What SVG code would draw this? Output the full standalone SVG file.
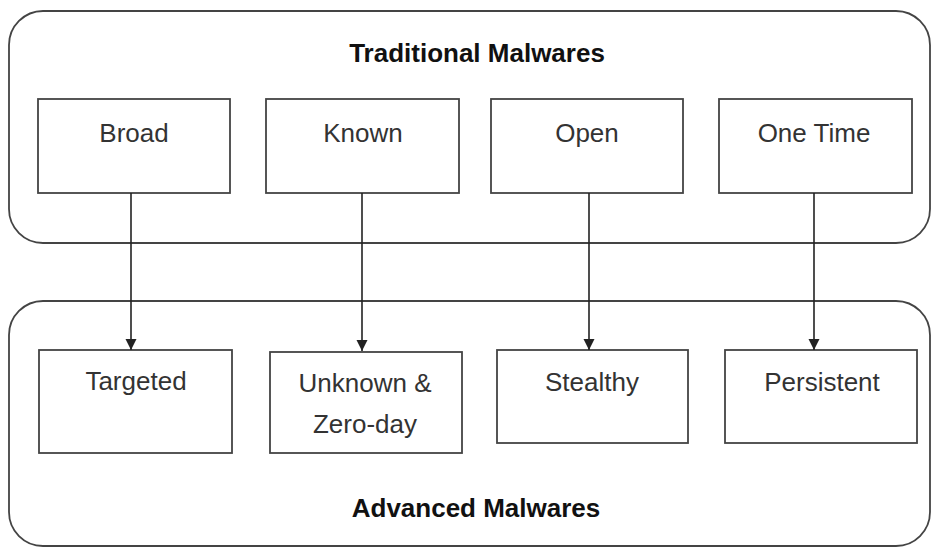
<svg xmlns="http://www.w3.org/2000/svg" width="931" height="547" viewBox="0 0 931 547">
<style>
.container{fill:none;stroke:#444;stroke-width:1.8}
.box{fill:#fff;stroke:#444;stroke-width:1.8}
.lbl{font-family:"Liberation Sans",Arial,sans-serif;font-size:26px;fill:#333;text-anchor:middle}
.title{font-family:"Liberation Sans",Arial,sans-serif;font-size:26px;font-weight:bold;fill:#111;text-anchor:middle}
.conn{stroke:#222;stroke-width:1.6;fill:none;marker-end:url(#arr)}
</style>
<defs>
<marker id="arr" markerWidth="11" markerHeight="12" refX="10" refY="5" orient="auto" markerUnits="userSpaceOnUse" viewBox="0 0 10 10">
<path d="M0,0 L10,5 L0,10 z" fill="#222"/>
</marker>
</defs>
<rect width="931" height="547" fill="#fff"/>
<g id="traditional">
<rect class="container" x="9" y="11" width="921" height="232" rx="34" ry="34"/>
<text class="title" x="477" y="62">Traditional Malwares</text>
</g>
<g id="advanced">
<rect class="container" x="9" y="301" width="921" height="245" rx="34" ry="34"/>
<text class="title" x="476" y="517">Advanced Malwares</text>
</g>
<g id="broad"><rect class="box" x="38" y="99" width="192" height="94"/><text class="lbl" x="134" y="142">Broad</text></g>
<g id="known"><rect class="box" x="266" y="99" width="193" height="94"/><text class="lbl" x="363" y="142">Known</text></g>
<g id="open"><rect class="box" x="491" y="99" width="192" height="94"/><text class="lbl" x="587" y="142">Open</text></g>
<g id="onetime"><rect class="box" x="719" y="99" width="193" height="94"/><text class="lbl" x="814" y="142">One Time</text></g>
<g id="targeted"><rect class="box" x="39" y="350" width="193" height="103"/><text class="lbl" x="136" y="390">Targeted</text></g>
<g id="unknown"><rect class="box" x="270" y="352" width="192" height="101"/><text class="lbl" x="365" y="392">Unknown &amp;</text><text class="lbl" x="365" y="433">Zero-day</text></g>
<g id="stealthy"><rect class="box" x="497" y="350" width="191" height="93"/><text class="lbl" x="592" y="391">Stealthy</text></g>
<g id="persistent"><rect class="box" x="725" y="350" width="192" height="93"/><text class="lbl" x="822" y="391">Persistent</text></g>
<g id="connectors">
<line class="conn" x1="131" y1="193" x2="131" y2="350"/>
<line class="conn" x1="362" y1="193" x2="362" y2="351"/>
<line class="conn" x1="589" y1="193" x2="589" y2="350"/>
<line class="conn" x1="814" y1="193" x2="814" y2="350"/>
</g>
</svg>
